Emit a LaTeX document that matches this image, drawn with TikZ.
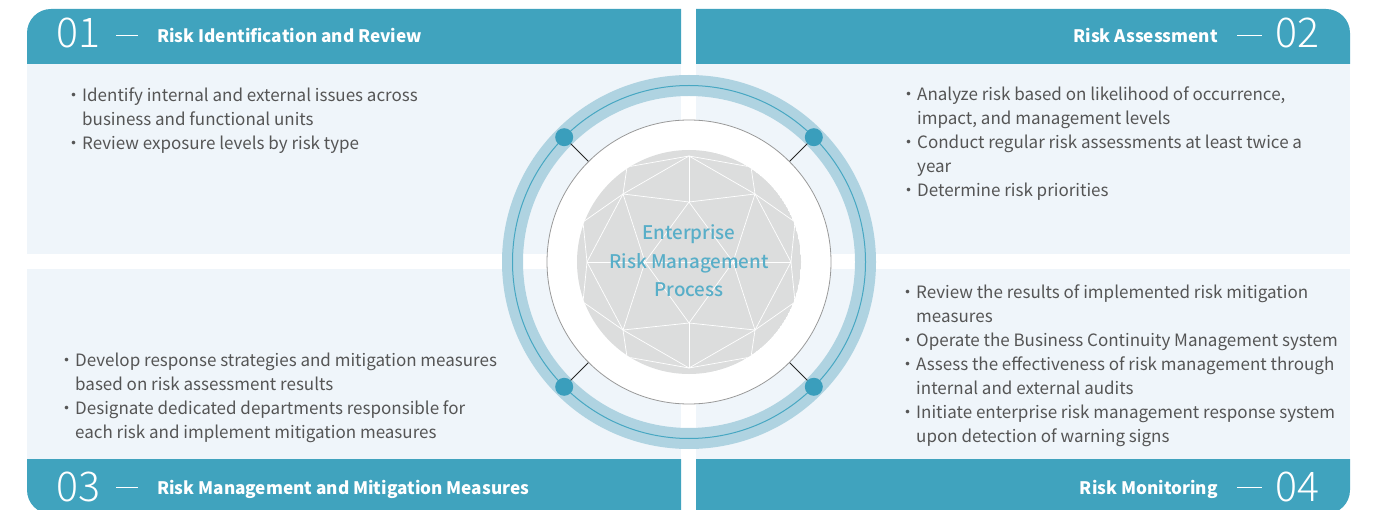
\documentclass[tikz,border=0pt]{standalone}
\usepackage{fontspec}
\setmainfont{Noto Sans CJK KR}
% thin face for the step numbers, falling back to the regular face
\IfFontExistsTF{Noto Sans CJK KR Light}
  {\newfontfamily\numfont{Noto Sans CJK KR Light}}
  {\IfFontExistsTF{Fira Sans Light}
    {\newfontfamily\numfont{Fira Sans Light}}
    {\newfontfamily\numfont{Noto Sans CJK KR}}}
% slightly heavier face for the centre title
\IfFontExistsTF{Noto Sans CJK KR Medium}
  {\newfontfamily\corefont{Noto Sans CJK KR Medium}}
  {\newfontfamily\corefont{Noto Sans CJK KR}}
\usepackage{xcolor}
\usepackage{tikz}
\usetikzlibrary{positioning,calc}

\definecolor{headblue}{HTML}{40A3BE}
\definecolor{panelbg}{HTML}{EFF5FA}
\definecolor{ringblue}{HTML}{AFD3E1}
\definecolor{ringline}{HTML}{47A7C2}
\definecolor{dotblue}{HTML}{3A9EBC}
\definecolor{coregray}{HTML}{DCDDDD}
\definecolor{coretext}{HTML}{58AEC8}
\definecolor{bodytext}{HTML}{555555}

\tikzset{
  headtxt/.style={text=white, inner sep=0pt, font=\fontsize{17.2}{20}\selectfont\bfseries},
  numtxt/.style={text=white, inner sep=0pt, font=\numfont\fontsize{41}{44}\selectfont},
  bodytxt/.style={text=bodytext, inner sep=0pt, font=\fontsize{17}{24}\selectfont},
  rule/.style={draw=white, line width=1pt},
  stepdot/.style={circle, fill=dotblue, minimum size=18pt, inner sep=0pt},
  link/.style={draw=black!85, line width=0.9pt},
  facet/.style={draw=white, line width=0.7pt},
}

\begin{document}
\begin{tikzpicture}[x=1pt, y=1pt]
  \useasboundingbox (0,0) rectangle (1388,509);
  \coordinate (c) at (689,247);

  % panels
  \fill[panelbg] (27,255) rectangle (681,445);
  \fill[panelbg] (696,255) rectangle (1350,445);
  \fill[panelbg] (27,50) rectangle (681,240);
  \fill[panelbg] (696,50) rectangle (1350,240);

  % header bars
  \fill[headblue] (27,445) -- (27,476) arc[start angle=180, end angle=90, radius=24pt] -- (681,500) -- (681,445) -- cycle;
  \fill[headblue] (696,445) -- (696,500) -- (1326,500) arc[start angle=90, end angle=0, radius=24pt] -- (1350,445) -- cycle;
  \fill[headblue] (27,50) -- (27,19) arc[start angle=180, end angle=270, radius=24pt] -- (681,-5) -- (681,50) -- cycle;
  \fill[headblue] (696,50) -- (696,-5) -- (1326,-5) arc[start angle=270, end angle=360, radius=24pt] -- (1350,50) -- cycle;

  \node[numtxt, anchor=base west] (n1) at (56,461) {01};
  \node[headtxt, anchor=base west] (h1) at (157,466) {Risk Identification and Review};
  \draw[rule] (116,473.5) -- (138,473.5);

  \node[headtxt, anchor=base east] (h2) at (1218,466) {Risk Assessment};
  \node[numtxt, anchor=base east] (n2) at (1320,461) {02};
  \draw[rule] (1237,473.5) -- (1262,473.5);

  \node[numtxt, anchor=base west] (n3) at (56,8) {03};
  \node[headtxt, anchor=base west] (h3) at (157,15) {Risk Management and Mitigation Measures};
  \draw[rule] (116,22) -- (138,22);

  \node[headtxt, anchor=base east] (h4) at (1218,15) {Risk Monitoring};
  \node[numtxt, anchor=base east] (n4) at (1320,8) {04};
  \draw[rule] (1237,22) -- (1262,22);

  % bullet texts
  \node[bodytxt, anchor=base west] (t1) at (65,407.5) {\begin{tabular}[t]{@{}l@{}l@{}}
    ・&Identify internal and external issues across\\
    &business and functional units\\
    ・&Review exposure levels by risk type
  \end{tabular}};
  \node[bodytxt, anchor=base west] (t2) at (900,408) {\begin{tabular}[t]{@{}l@{}l@{}}
    ・&Analyze risk based on likelihood of occurrence,\\
    &impact, and management levels\\
    ・&Conduct regular risk assessments at least twice a\\
    &year\\
    ・&Determine risk priorities
  \end{tabular}};
  \node[bodytxt, anchor=base west] (t3) at (58,143) {\begin{tabular}[t]{@{}l@{}l@{}}
    ・&Develop response strategies and mitigation measures\\
    &based on risk assessment results\\
    ・&Designate dedicated departments responsible for\\
    &each risk and implement mitigation measures
  \end{tabular}};
  \node[bodytxt, anchor=base west] (t4) at (899,211) {\begin{tabular}[t]{@{}l@{}l@{}}
    ・&Review the results of implemented risk mitigation\\
    &measures\\
    ・&Operate the Business Continuity Management system\\
    ・&Assess the effectiveness of risk management through\\
    &internal and external audits\\
    ・&Initiate enterprise risk management response system\\
    &upon detection of warning signs
  \end{tabular}};

  % ring
  \fill[ringblue, even odd rule] (c) circle[radius=187pt] circle[radius=166pt];
  \draw[ringline, line width=1pt] (c) circle[radius=176.5pt];
  \node[circle, fill=white, draw=black!40, line width=0.8pt, minimum size=284pt, inner sep=0pt] (disk) at (c) {};

  % faceted core
  \begin{scope}[shift={(c)}]
    \clip (0,0) circle[radius=112pt];
    \fill[coregray] (0,0) circle[radius=112pt];
    \coordinate (T) at (0,106);   \coordinate (Bo) at (0,-106);
    \coordinate (A1) at (-66,68); \coordinate (A2) at (66,68);
    \coordinate (B1) at (-66,-68); \coordinate (B2) at (66,-68);
    \coordinate (C) at (0,60);    \coordinate (D) at (0,-61);
    \coordinate (L) at (-102,0);  \coordinate (R) at (102,0);
    \coordinate (M1) at (-44,0);  \coordinate (M2) at (44,0);
    \coordinate (U1) at (-62,95); \coordinate (U2) at (62,95);
    \coordinate (V1) at (-62,-95); \coordinate (V2) at (62,-95);
    \coordinate (W1) at (-106,40); \coordinate (W2) at (106,40);
    \coordinate (W3) at (-106,-40); \coordinate (W4) at (106,-40);
    \foreach \a/\b in {T/A1, T/A2, T/C, A1/C, A2/C, A1/L, A2/R, A1/M1, C/M1, C/M2, A2/M2,
        L/R, L/B1, M1/B1, M1/D, M2/D, M2/B2, R/B2, B1/D, B2/D, B1/Bo, B2/Bo, D/Bo,
        T/U1, T/U2, A1/U1, A2/U2, A1/W1, A2/W2, W1/L, W2/R, L/W3, R/W4,
        W3/B1, W4/B2, B1/V1, B2/V2, V1/Bo, V2/Bo}
      \draw[facet] (\a) -- (\b);
  \end{scope}

  \node[align=center, text=coretext, font=\corefont\fontsize{18.8}{28.5}\selectfont] (core) at (689,248)
    {Enterprise\\Risk Management\\Process};

  % step markers
  \node[stepdot] (d1) at ($(c)+(135:176.5pt)$) {};
  \node[stepdot] (d2) at ($(c)+(45:176.5pt)$) {};
  \node[stepdot] (d3) at ($(c)+(225:176.5pt)$) {};
  \node[stepdot] (d4) at ($(c)+(315:176.5pt)$) {};
  \draw[link] (d1) -- (disk.135);
  \draw[link] (d2) -- (disk.45);
  \draw[link] (d3) -- (disk.225);
  \draw[link] (d4) -- (disk.315);
\end{tikzpicture}
\end{document}
